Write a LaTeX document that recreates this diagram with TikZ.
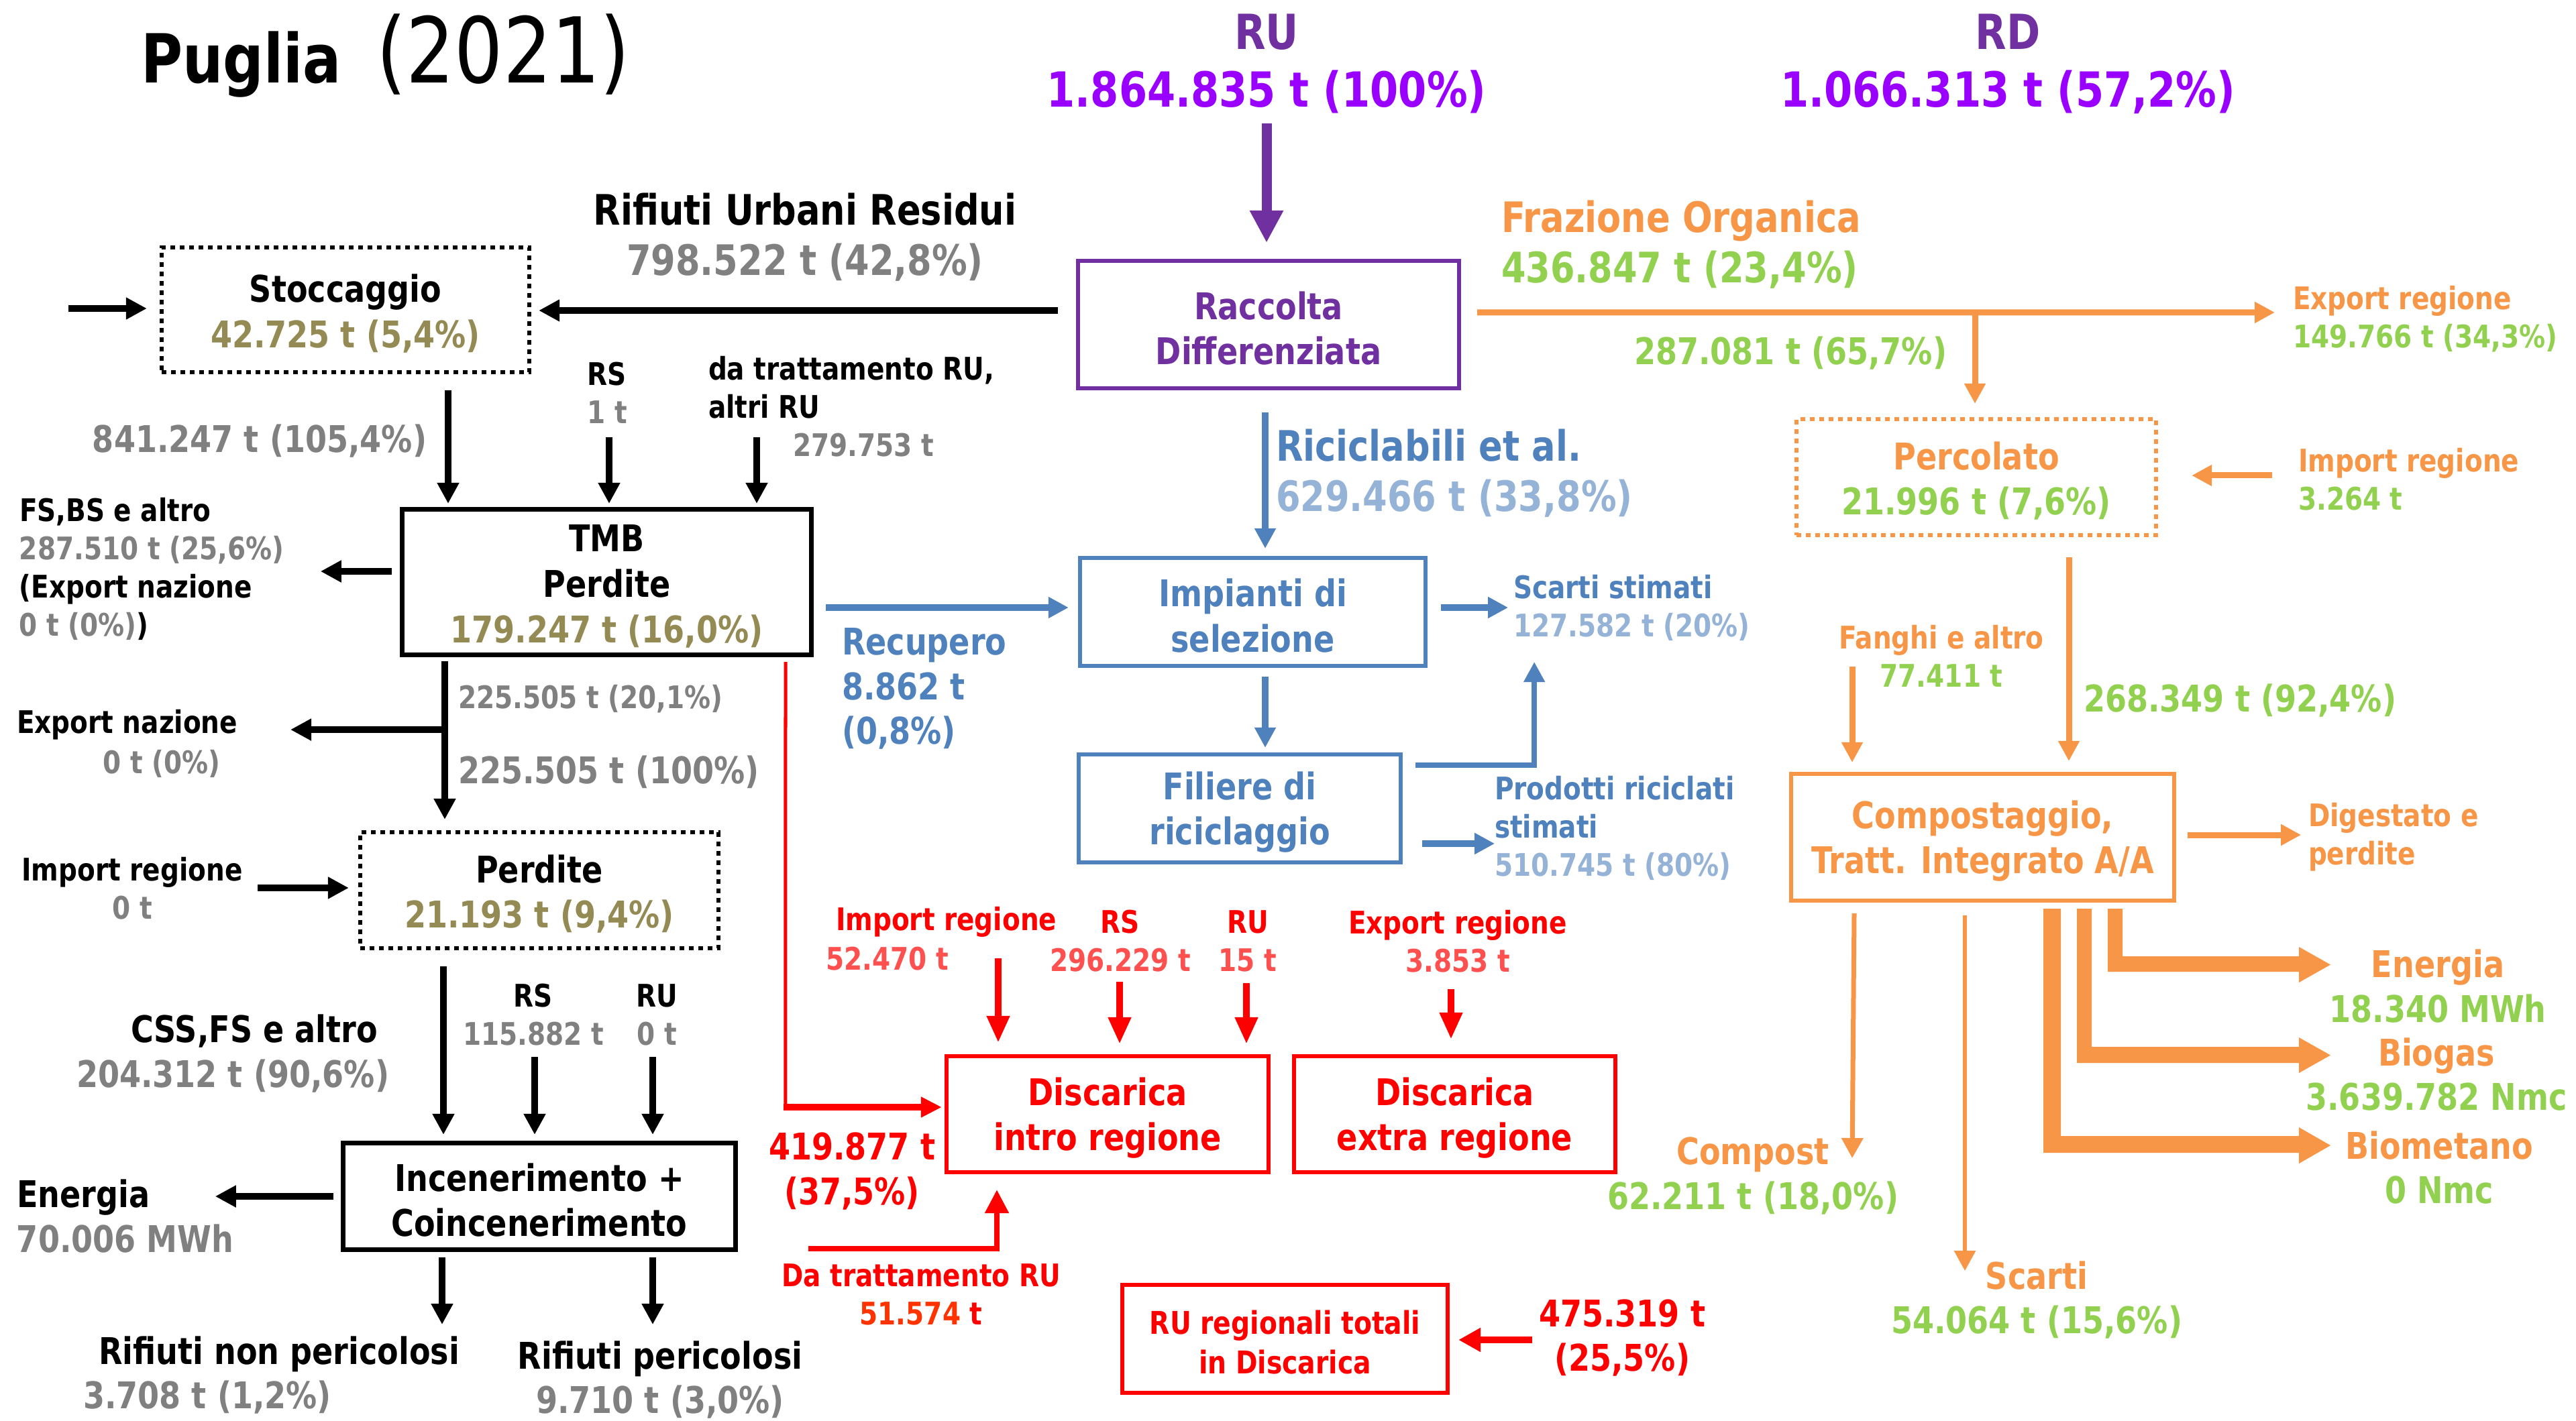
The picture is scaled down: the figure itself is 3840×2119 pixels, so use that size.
\documentclass[tikz,border=0pt]{standalone}
\usepackage{fontspec}
\setmainfont{DejaVu Sans}[FakeStretch=0.84]
\usetikzlibrary{arrows.meta,calc}
\definecolor{dpurp}{HTML}{7030A0}
\definecolor{vio}{HTML}{9900FF}
\definecolor{gry}{HTML}{808080}
\definecolor{olv}{HTML}{948A54}
\definecolor{blu}{HTML}{4F81BD}
\definecolor{lblu}{HTML}{95B3D7}
\definecolor{org}{HTML}{F79646}
\definecolor{grn}{HTML}{92D050}
\definecolor{rd}{HTML}{FF0000}
\definecolor{lrd}{HTML}{FF5050}
\definecolor{ored}{HTML}{FF3300}
\newcommand\fzT{\fontsize{28.7}{30}\selectfont}
\newcommand\fzY{\fontsize{38.5}{40}\selectfont}
\newcommand\fzR{\fontsize{20.5}{24.5}\selectfont}
\newcommand\fzB{\fontsize{17.8}{21.3}\selectfont}
\newcommand\fzN{\fontsize{15.6}{19.3}\selectfont}
\newcommand\fzL{\fontsize{15.6}{18.8}\selectfont}
\newcommand\fzS{\fontsize{13.2}{16.2}\selectfont}
\newcommand\tp{\rule{0pt}{15pt}}
\begin{document}
\begin{tikzpicture}[x=0.01cm,y=-0.01cm,
  every node/.style={inner sep=0pt,outer sep=0pt},
  tR/.style={font=\bfseries\fzR, yshift=-0.03cm},
  tB/.style={font=\bfseries\fzB, yshift=-0.03cm},
  tN/.style={font=\bfseries\fzN, yshift=-0.03cm},
  tL/.style={font=\bfseries\fzL, yshift=-0.03cm},
  tS/.style={font=\bfseries\fzS, yshift=-0.03cm},
  bx/.style={draw=#1, line width=0.065cm, text=#1, font=\bfseries\fzN, align=center},
  dbx/.style={draw=#1, line width=0.06cm, dash pattern=on 0.07cm off 0.07cm, font=\bfseries\fzN, align=center},
  ak/.style={draw=black, line width=0.1cm, -{Triangle[length=0.31cm,width=0.31cm]}},
  ap/.style={draw=dpurp, line width=0.15cm, -{Triangle[length=0.48cm,width=0.47cm]}},
  ab/.style={draw=blu, line width=0.095cm, -{Triangle[length=0.3cm,width=0.3cm]}},
  ao/.style={draw=org, line width=0.09cm, -{Triangle[length=0.3cm,width=0.3cm]}},
  aot/.style={draw=org, line width=0.07cm, -{Triangle[length=0.3cm,width=0.31cm]}},
  ar/.style={draw=rd, line width=0.1cm, -{Triangle[length=0.4cm,width=0.32cm]}},
]
\useasboundingbox (0,0) rectangle (3840,2119);
\fill[white] (0,0) rectangle (3840,2119);

% title
\node[anchor=base west, font=\bfseries\fzT] (tit) at (210,124) {Puglia};
\node[anchor=base west, font=\mdseries\fzY] (yr) at (561,124) {(2021)};

% RU / RD
\node[tR, align=center] (ru) at (1888,92) {\textcolor{dpurp}{RU}\\\textcolor{vio}{1.864.835 t (100\%)}};
\node[tR, align=center] (rd) at (2993,92) {\textcolor{dpurp}{RD}\\\textcolor{vio}{1.066.313 t (57,2\%)}};

% boxes
\node[bx=dpurp, minimum width=5.68cm, minimum height=1.90cm] (racc) at (1891,484) {\tp Raccolta\\Differenziata};
\node[dbx=black, minimum width=5.47cm, minimum height=1.86cm] (stoc) at (515,462) {\tp Stoccaggio\\\textcolor{olv}{42.725 t (5,4\%)}};
\node[bx=black, line width=0.07cm, minimum width=6.09cm, minimum height=2.16cm] (tmb) at (904.5,868) {\tp TMB\\Perdite\\\textcolor{olv}{179.247 t (16,0\%)}};
\node[bx=blu, minimum width=5.15cm, minimum height=1.61cm] (imp) at (1867.5,912.5) {\tp Impianti di\\selezione};
\node[bx=blu, minimum width=4.80cm, minimum height=1.61cm] (fil) at (1848,1205.5) {\tp Filiere di\\riciclaggio};
\node[bx=rd, minimum width=4.80cm, minimum height=1.73cm] (dintro) at (1651,1661.5) {\tp Discarica\\intro regione};
\node[bx=rd, minimum width=4.79cm, minimum height=1.73cm] (dextra) at (2168.5,1661.5) {\tp Discarica\\extra regione};
\node[bx=rd, font=\bfseries\fontsize{13.3}{16.8}\selectfont, minimum width=4.85cm, minimum height=1.61cm] (rureg) at (1915.5,1996.5) {\rule{0pt}{13pt}RU regionali totali\\in Discarica};
\node[dbx=black, minimum width=5.34cm, minimum height=1.73cm] (perd) at (804,1327.5) {\tp Perdite\\\textcolor{olv}{21.193 t (9,4\%)}};
\node[bx=black, line width=0.07cm, minimum width=5.84cm, minimum height=1.58cm] (inc) at (804,1784) {\tp Incenerimento +\\Coincenerimento};
\node[dbx=org, minimum width=5.36cm, minimum height=1.73cm] (perc) at (2946,711.5) {\tp\textcolor{org}{Percolato}\\\textcolor{grn}{21.996 t (7,6\%)}};
\node[bx=org, minimum width=5.71cm, minimum height=1.89cm] (comp) at (2955.5,1248.5) {\tp Compostaggio,\\Tratt. Integrato A/A};

% labels left/top
\node[tB, align=center] (rur) at (1200,351) {Rifiuti Urbani Residui\\\textcolor{gry}{798.522 t (42,8\%)}};
\node[tN, text=gry] (s1) at (387,655) {841.247 t (105,4\%)};
\node[tS, align=center] (rs1) at (905,583) {RS\\\textcolor{gry}{1 t}};
\node[tS, align=left, anchor=west] (dtr) at (1056,575) {da trattamento RU,\\altri RU};
\node[tS, text=gry, anchor=west] (dtrv) at (1182,661) {279.753 t};
\node[tS, align=left, anchor=west] (fsbs) at (29,845) {FS,BS e altro\\\textcolor{gry}{287.510 t (25,6\%)}\\(Export nazione\\\textcolor{gry}{0 t (0\%)})};
\node[tL, text=blu, align=left, anchor=west] (rec) at (1255,1024) {Recupero\\8.862 t\\(0,8\%)};

% blue labels
\node[tB, align=left, anchor=west] (ric) at (1902,703) {\textcolor{blu}{Riciclabili et al.}\\\textcolor{lblu}{629.466 t (33,8\%)}};
\node[tS, align=left, anchor=west] (sst) at (2256,903) {\textcolor{blu}{Scarti stimati}\\\textcolor{lblu}{127.582 t (20\%)}};
\node[tS, align=left, anchor=west] (prod) at (2228,1232) {\textcolor{blu}{Prodotti riciclati}\\\textcolor{blu}{stimati}\\\textcolor{lblu}{510.745 t (80\%)}};

% red labels
\node[tL, text=rd, align=center] (r419) at (1270,1743.5) {419.877 t\\(37,5\%)};
\node[tS, text=rd, anchor=west] (rimp) at (1246,1372) {Import regione};
\node[tS, text=lrd, anchor=west] (rimpv) at (1231,1427) {52.470 t};
\node[tS, align=center] (rrs) at (1670,1400) {\textcolor{rd}{RS}\\\textcolor{lrd}{296.229 t}};
\node[tS, align=center] (rru) at (1860,1400) {\textcolor{rd}{RU}\\\textcolor{lrd}{15 t}};
\node[tS, align=center] (rexp) at (2173,1401) {\textcolor{rd}{Export regione}\\\textcolor{lrd}{3.853 t}};
\node[tS, text=rd, align=center] (rdt) at (1373,1927) {Da trattamento RU\\\textcolor{ored}{51.574} t};
\node[tL, text=rd, align=center] (r475) at (2418,1992) {475.319 t\\(25,5\%)};

% left lower labels
\node[tS, text=gry, anchor=west] (v2251) at (683,1039) {225.505 t (20,1\%)};
\node[tS, anchor=west] (expn) at (25,1078) {Export nazione};
\node[tS, text=gry] (expnv) at (241,1136) {0 t (0\%)};
\node[tN, text=gry, anchor=west] (v2252) at (683,1148) {225.505 t (100\%)};
\node[tS, align=center] (impr) at (197,1322) {Import regione\\\textcolor{gry}{0 t}};
\node[tS, align=center] (lrs) at (795,1510) {RS\\\textcolor{gry}{115.882 t}};
\node[tS, align=center] (lru) at (979,1510) {RU\\\textcolor{gry}{0 t}};
\node[tN] (css) at (379,1535) {CSS,FS e altro};
\node[tN, text=gry] (cssv) at (347,1602) {204.312 t (90,6\%)};
\node[tL, align=left, anchor=west] (en) at (25,1810.5) {Energia\\\textcolor{gry}{70.006 MWh}};
\node[tN] (rnp) at (416,2016) {Rifiuti non pericolosi};
\node[tN, text=gry] (rnpv) at (309,2081) {3.708 t (1,2\%)};
\node[tL, align=center] (rp) at (984,2054.5) {Rifiuti pericolosi\\\textcolor{gry}{9.710 t (3,0\%)}};

% right labels
\node[tB, align=left, anchor=west] (fo) at (2238,362) {\textcolor{org}{Frazione Organica}\\\textcolor{grn}{436.847 t (23,4\%)}};
\node[tN, text=grn] (v287) at (2669,524) {287.081 t (65,7\%)};
\node[tS, align=left, anchor=west] (expr) at (3418,472.5) {\textcolor{org}{Export regione}\\\textcolor{grn}{149.766 t (34,3\%)}};
\node[tS, align=left, anchor=west] (impo) at (3426,712) {\textcolor{org}{Import regione}\\\textcolor{grn}{3.264 t}};
\node[tN, text=grn, anchor=west] (v268) at (3106,1042) {268.349 t (92,4\%)};
\node[tS, align=center] (fan) at (2894,975) {\textcolor{org}{Fanghi e altro}\\\textcolor{grn}{77.411 t}};
\node[tS, text=org, align=left, anchor=west] (dig) at (3441,1245.5) {Digestato e\\perdite};
\node[tL, align=center] (cpst) at (2613,1750.5) {\textcolor{org}{Compost}\\\textcolor{grn}{62.211 t (18,0\%)}};
\node[tL, align=center] (scar) at (3036,1935.5) {\textcolor{org}{Scarti}\\\textcolor{grn}{54.064 t (15,6\%)}};
\node[tL, align=center] (ener) at (3634,1467.5) {\textcolor{org}{Energia}\\\textcolor{grn}{18.340 MWh}};
\node[tL, align=center] (biog) at (3632,1599) {\textcolor{org}{Biogas}\\\textcolor{grn}{3.639.782 Nmc}};
\node[tL, align=center] (biom) at (3636,1738) {\textcolor{org}{Biometano}\\\textcolor{grn}{0 Nmc}};

% ---- connectors ----
\draw[ap] ($(racc.north)+(-3,-205)$) -- ($(racc.north)+(-3,-27)$);
\draw[ak] ($(racc.west)+(-30,-21)$) -- ($(stoc.east)+(14.5,1)$);
\draw[ak] ($(stoc.west)+(-139.5,-2)$) -- ($(stoc.west)+(-22.5,-2)$);
\draw[ak] ($(stoc.south)+(153,27)$) -- ($(tmb.north)+(-236.5,-9)$);
\draw[ak] ($(tmb.north)+(3.5,-108)$) -- ($(tmb.north)+(3.5,-9)$);
\draw[ak] ($(tmb.north)+(223.5,-108)$) -- ($(tmb.north)+(223.5,-9)$);
\draw[ak] ($(tmb.west)+(-16,-16)$) -- ($(tmb.west)+(-122,-16)$);

\draw[ab] ($(tmb.east)+(22,38)$) -- ($(imp.west)+(-17,-6.5)$);
\draw[ab] ($(racc.south)+(-5,36)$) -- ($(imp.north)+(18.5,-14)$);
\draw[ab] ($(imp.east)+(23,-6.5)$) -- ($(imp.east)+(123,-6.5)$);
\draw[ab] ($(imp.south)+(18.5,16)$) -- ($(fil.north)+(38,-10)$);
\draw[ab, line width=0.075cm] ($(fil.east)+(22,-64.5)$) -| ($(imp.east)+(162,74.5)$);
\draw[ab] ($(fil.east)+(32,52.5)$) -- ($(fil.east)+(140,52.5)$);

\draw[rd, line width=0.05cm] ($(tmb.south)+(266.5,11)$) -- ($(dintro.west)+(-240,-10.5)$);
\draw[ar, -{Triangle[length=0.31cm,width=0.29cm]}] ($(dintro.west)+(-242.5,-10.5)$) -- ($(dintro.west)+(-7,-10.5)$);
\draw[ar] ($(dintro.north)+(-163,-146)$) -- ($(dintro.north)+(-163,-20)$);
\draw[ar] ($(dintro.north)+(18,-111)$) -- ($(dintro.north)+(18,-18)$);
\draw[ar] ($(dintro.north)+(207,-109)$) -- ($(dintro.north)+(207,-18)$);
\draw[ar] ($(dextra.north)+(-5.5,-100)$) -- ($(dextra.north)+(-5.5,-25)$);
\draw[ar, line width=0.08cm, -{Triangle[length=0.35cm,width=0.34cm]}] ($(dintro.south)+(-446,114)$) -| ($(dintro.south)+(-165,26)$);
\draw[ar, -{Triangle[length=0.33cm,width=0.34cm]}] ($(rureg.east)+(126,1.5)$) -- ($(rureg.east)+(16,1.5)$);

\draw[ak] ($(tmb.south)+(-241.5,10)$) -- ($(perd.north)+(-141,-19)$);
\draw[ak] ($(tmb.south)+(-241.5,112)$) -- ($(tmb.south)+(-471.5,112)$);
\draw[ak] ($(perd.west)+(-153,-3.5)$) -- ($(perd.west)+(-17,-3.5)$);
\draw[ak] ($(perd.south)+(-143,27)$) -- ($(inc.north)+(-143,-13)$);
\draw[ak] ($(inc.north)+(-7,-129)$) -- ($(inc.north)+(-7,-13)$);
\draw[ak] ($(inc.north)+(169,-129)$) -- ($(inc.north)+(169,-13)$);
\draw[ak] ($(inc.west)+(-15,0)$) -- ($(inc.west)+(-191,0)$);
\draw[ak] ($(inc.south)+(-145,12)$) -- ($(inc.south)+(-145,112)$);
\draw[ak] ($(inc.south)+(169,12)$) -- ($(inc.south)+(169,112)$);

\draw[ao] ($(racc.east)+(27,-18)$) -- ($(perc.north)+(445,-159)$);
\draw[ao] ($(perc.north)+(-2,-159)$) -- ($(perc.north)+(-2,-23)$);
\draw[ao] ($(perc.east)+(173,-2.5)$) -- ($(perc.east)+(53,-2.5)$);
\draw[ao] ($(perc.south)+(138,33)$) -- ($(comp.north)+(128.5,-19)$);
\draw[ao] ($(comp.north)+(-194.5,-160)$) -- ($(comp.north)+(-194.5,-17)$);
\draw[ao] ($(comp.east)+(20,-3.5)$) -- ($(comp.east)+(189,-3.5)$);
\draw[aot] ($(comp.south)+(-191.5,19)$) -- ($(comp.south)+(-194.5,384)$);
\draw[aot, line width=0.06cm] ($(comp.south)+(-26.5,22)$) -- ($(comp.south)+(-26.5,552)$);

\begin{scope}[shift={(comp.south)}]
\fill[org] (186.5,12) -- (208.5,12) -- (208.5,83) -- (471.5,83) -- (471.5,69) -- (518.5,95.5) -- (471.5,122) -- (471.5,106) -- (186.5,106) -- cycle;
\fill[org] (140.5,12) -- (162.5,12) -- (162.5,218) -- (471.5,218) -- (471.5,204) -- (518.5,230.5) -- (471.5,257) -- (471.5,242) -- (140.5,242) -- cycle;
\fill[org] (90.5,12) -- (116.5,12) -- (116.5,351) -- (471.5,351) -- (471.5,338) -- (518.5,365) -- (471.5,392) -- (471.5,376) -- (90.5,376) -- cycle;
\end{scope}
\end{tikzpicture}
\end{document}
